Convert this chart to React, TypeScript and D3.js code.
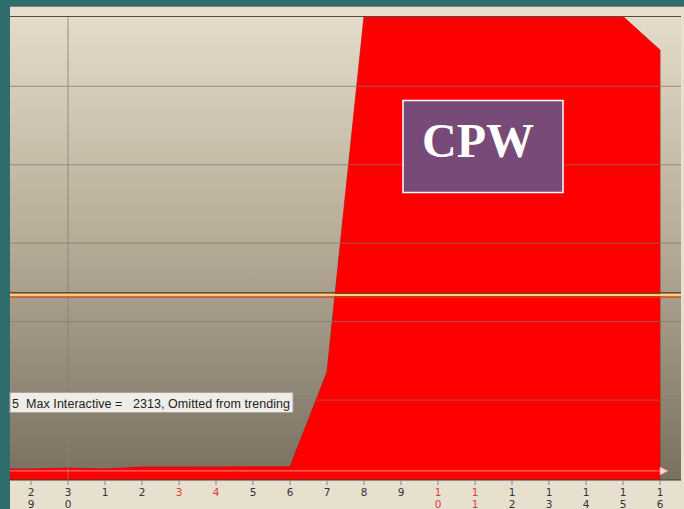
import React from 'react';
import * as d3 from 'd3';

// day-of-month ticks along the x axis
const days = ['29', '30', '1', '2', '3', '4', '5', '6', '7', '8', '9', '10', '11', '12', '13', '14', '15', '16'];
const weekendDays = ['3', '4', '10', '11'];
const monthGridDays = ['30'];

// main usage series (red area)
const usage = [121, 134, 121, 147, 147, 148, 150, 150, 1358, 5890, 5890, 5890, 5890, 5890, 5890, 5890, 5890, 5463];
// low reference line
const baseline = [96, 96, 96, 96, 96, 96, 96, 96, 96, 96, 96, 96, 96, 96, 96, 96, 96, 96];

const maxInteractive = 2313;
const gridValues = [1000, 2000, 3000, 4000, 5000];
const yMax = 5890;

const noteText = '5  Max Interactive =   2313, Omitted from trending';
const badgeText = 'CPW';

const W = 684;
const H = 509;
const plot = { left: 10, right: 681, top: 16.5, bottom: 480 };

const App: React.FC = () => {
  const xScale = d3.scaleLinear().domain([0, days.length - 1]).range([31, 660]);
  const yScale = d3.scaleLinear().domain([0, yMax]).range([478.5, plot.top]);

  // extend the first value back to the plot's left edge
  const areaPts: [number, number][] = [[xScale.invert(plot.left), usage[0]]];
  usage.forEach((v, i) => areaPts.push([i, v]));

  const area = d3.area<[number, number]>()
    .x(d => xScale(d[0]))
    .y0(plot.bottom)
    .y1(d => yScale(d[1]));

  const linePts: [number, number][] = [[xScale.invert(plot.left), baseline[0]]];
  baseline.forEach((v, i) => linePts.push([i, v]));
  const line = d3.line<[number, number]>()
    .x(d => xScale(d[0]))
    .y(d => yScale(d[1]));

  const lastX = xScale(baseline.length - 1);
  const lastY = yScale(baseline[baseline.length - 1]);
  const ty = yScale(maxInteractive);

  return (
    <svg width={W} height={H} style={{ position: 'absolute', left: 0, top: 0 }}>
      <defs>
        <linearGradient id="bg" x1="0" y1="0" x2="0" y2="1">
          <stop offset="0%" stopColor="#e4dcc9" />
          <stop offset="45%" stopColor="#b9af9b" />
          <stop offset="100%" stopColor="#7a7060" />
        </linearGradient>
        <clipPath id="plotClip">
          <rect x={plot.left} y={plot.top} width={plot.right - plot.left} height={plot.bottom - plot.top} />
        </clipPath>
      </defs>

      {/* page and chart frame */}
      <rect x={0} y={0} width={W} height={H} fill="#2e6d6b" />
      <rect x={plot.left} y={6} width={W - plot.left} height={H - 6} fill="#e7e0cf" />
      <rect x={plot.left} y={plot.top} width={plot.right - plot.left} height={plot.bottom - plot.top} fill="url(#bg)" />
      <line x1={plot.left} x2={W} y1={6.5} y2={6.5} stroke="#8a7a68" strokeWidth={1} />

      <g clipPath="url(#plotClip)">
        <path d={area(areaPts) || ''} fill="#ff0000" stroke="#c81010" strokeWidth={0.8} />

        {gridValues.map(v => (
          <line key={v} x1={plot.left} x2={plot.right} y1={yScale(v)} y2={yScale(v)}
            stroke="rgba(130,118,102,0.7)" strokeWidth={1} />
        ))}
        {monthGridDays.map(d => (
          <line key={d} x1={xScale(days.indexOf(d))} x2={xScale(days.indexOf(d))} y1={plot.top} y2={plot.bottom}
            stroke="rgba(140,128,112,0.7)" strokeWidth={1.2} />
        ))}

        {/* max interactive threshold */}
        <line x1={plot.left} x2={plot.right} y1={ty - 4.5} y2={ty - 4.5} stroke="#6a4a1c" strokeWidth={1.3} />
        <line x1={plot.left} x2={plot.right} y1={ty - 2} y2={ty - 2} stroke="#f8d27a" strokeWidth={2} />
        <line x1={plot.left} x2={plot.right} y1={ty} y2={ty} stroke="#d8461c" strokeWidth={1.3} />

        <path d={line(linePts) || ''} fill="none" stroke="#ff6a6a" strokeWidth={1.3} />
        <path d={`M${lastX},${lastY - 4}L${lastX + 8},${lastY}L${lastX},${lastY + 4}Z`} fill="#ffd6d6" stroke="#e89090" strokeWidth={0.6} />
      </g>

      <line x1={plot.left} x2={plot.right} y1={plot.top} y2={plot.top} stroke="#5e4a38" strokeWidth={1} />
      <line x1={plot.left} x2={plot.right} y1={plot.bottom} y2={plot.bottom} stroke="#3a3a3a" strokeWidth={1} />

      {/* x axis */}
      {days.map((d, i) => {
        const x = xScale(i);
        const color = weekendDays.includes(d) ? '#e23a3a' : '#333333';
        return (
          <g key={d}>
            <line x1={x} x2={x} y1={plot.bottom} y2={plot.bottom + 5} stroke="#8a8278" strokeWidth={1} />
            {d.split('').map((ch, k) => (
              <text key={k} x={x} y={496 + k * 11.5} textAnchor="middle" fill={color}
                fontFamily="DejaVu Sans, sans-serif" fontSize={10.5}>{ch}</text>
            ))}
          </g>
        );
      })}

      {/* note box */}
      <rect x={plot.left} y={392.5} width={283} height={20} fill="#efede7" stroke="#a8a49c" strokeWidth={1} />
      <text x={12} y={408} fontFamily="Liberation Sans, Arial, sans-serif" fontSize={12.5} fill="#222"
        style={{ whiteSpace: 'pre' }} textLength={278}>{noteText}</text>

      {/* badge */}
      <rect x={403} y={100.5} width={160} height={92} fill="#774a77" stroke="#ffffff" strokeWidth={1.5} />
      <text x={478} y={157} textAnchor="middle" fill="#ffffff" fontFamily="Liberation Serif, Times New Roman, serif"
        fontWeight="bold" fontSize={48}>{badgeText}</text>
    </svg>
  );
};

export default App;
